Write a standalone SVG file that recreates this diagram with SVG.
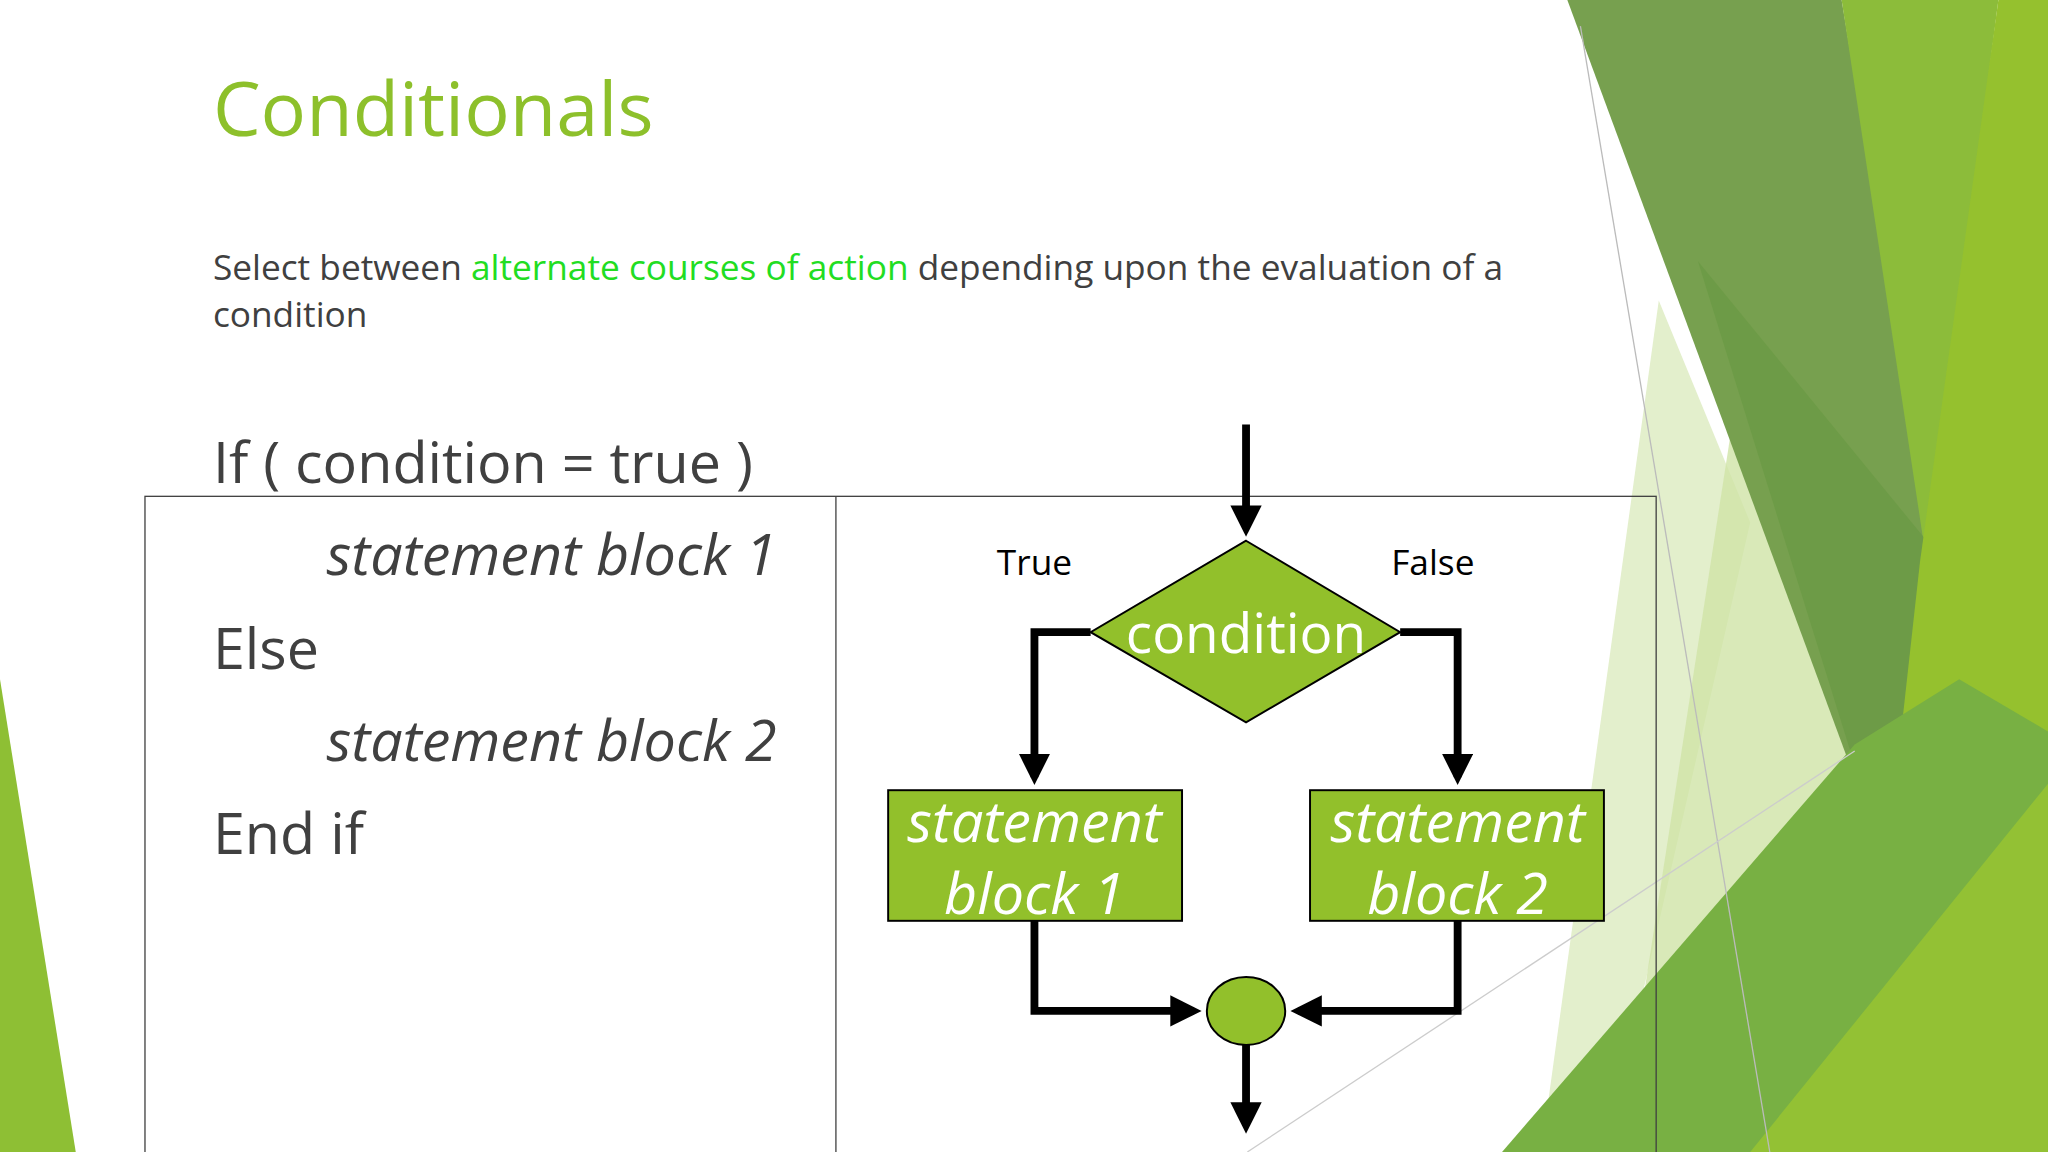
<svg xmlns="http://www.w3.org/2000/svg" width="2048" height="1152" viewBox="0 0 2048 1152">
<defs>
<style>
.t{font-family:"Open Sans","DejaVu Sans",sans-serif;fill:#404040}
.w{font-family:"Open Sans","DejaVu Sans",sans-serif;fill:#fff;text-anchor:middle}
.ln{fill:none;stroke:#000;stroke-width:6}
.sh{fill:#92c02b;stroke:#000;stroke-width:1.5}
</style>
<marker id="ah" markerWidth="4" markerHeight="4" refX="3" refY="2" orient="auto" markerUnits="strokeWidth"><path d="M0,0L4,2L0,4Z" fill="#000"/></marker>
</defs>
<rect width="2048" height="1152" fill="#fff"/>
<g transform="scale(1.30612)">
<g id="decor">
<polygon points="1270,230 1340,400 1230,882 1180,882" fill="#e3efcc"/>
<polygon points="1330,300 1420,560 1300,882 1240,882" fill="#cfe4a6" opacity="0.8"/>
<polygon points="1200,0 1410,0 1480,420 1440,650" fill="#77a04f"/>
<polygon points="1410,0 1530,0 1475,430" fill="#8cbc3a"/>
<polygon points="1300,200 1440,650 1500,580 1480,420" fill="#6a9a45" opacity="0.8"/>
<polygon points="1530,0 1568,0 1568,882 1420,882 1470,430" fill="#95c12e"/>
<polygon points="1150,882 1420,570 1500,520 1568,560 1568,882" fill="#78b043"/>
<polygon points="1340,882 1568,600 1568,882" fill="#93c134"/>
<polygon points="0,520 58,882 0,882" fill="#8ebf34"/>
<line x1="1210" y1="20" x2="1355" y2="882" stroke="#bbb" stroke-width="1"/>
<line x1="955" y1="882" x2="1420" y2="575" stroke="#ccc" stroke-width="1"/>
</g>
<g id="text">
<text x="163" y="104" font-size="58" class="t" style="fill:#8dc02b">Conditionals</text>
<text x="163" y="214" font-size="27" class="t">Select between <tspan fill="#22dd22">alternate courses of action</tspan> depending upon the evaluation of a</text>
<text x="163" y="250" font-size="27" class="t">condition</text>
<text x="163" y="370" font-size="44" class="t">If ( condition = true )</text>
<text x="250" y="440" font-size="44" font-style="italic" class="t">statement block 1</text>
<text x="163" y="512" font-size="44" class="t">Else</text>
<text x="250" y="583" font-size="44" font-style="italic" class="t">statement block 2</text>
<text x="163" y="654" font-size="44" class="t">End if</text>
</g>
<g id="table" fill="none" stroke="#404040" stroke-width="1">
<rect x="111" y="380" width="1157" height="505"/>
<line x1="640" y1="380" x2="640" y2="882"/>
</g>
<g id="connectors">
<path class="ln" d="M954,325V405" marker-end="url(#ah)"/>
<path class="ln" d="M835,484H792V595" marker-end="url(#ah)"/>
<path class="ln" d="M1072,484H1116V595" marker-end="url(#ah)"/>
<path class="ln" d="M792,705V774H914" marker-end="url(#ah)"/>
<path class="ln" d="M1116,705V774H994" marker-end="url(#ah)"/>
<path class="ln" d="M954,800V862" marker-end="url(#ah)"/>
</g>
<g id="condition">
<polygon class="sh" points="954,414 1072,484 954,553 835,484"/>
<text x="954" y="500" font-size="42" class="w">condition</text>
</g>
<text x="792" y="440" font-size="27" class="t" text-anchor="middle" style="fill:#000">True</text>
<text x="1097" y="440" font-size="27" class="t" text-anchor="middle" style="fill:#000">False</text>
<g id="block1">
<rect class="sh" x="680" y="605" width="225" height="100"/>
<text x="792" y="645" font-size="44" font-style="italic" class="w">statement</text>
<text x="792" y="700" font-size="44" font-style="italic" class="w">block 1</text>
</g>
<g id="block2">
<rect class="sh" x="1003" y="605" width="225" height="100"/>
<text x="1116" y="645" font-size="44" font-style="italic" class="w">statement</text>
<text x="1116" y="700" font-size="44" font-style="italic" class="w">block 2</text>
</g>
<g id="join">
<ellipse class="sh" cx="954" cy="774" rx="30" ry="26"/>
</g>
</g>
</svg>
